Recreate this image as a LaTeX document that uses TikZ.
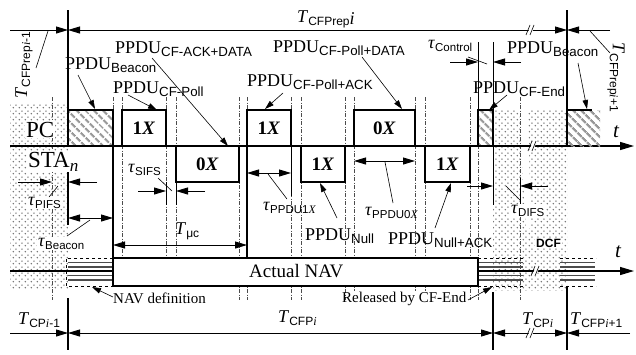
\documentclass[tikz,border=0pt]{standalone}
\usepackage{fontspec}
\setmainfont{Liberation Serif}
\newfontfamily\subf{Liberation Sans}
\usetikzlibrary{arrows.meta,patterns,patterns.meta}
\newcommand\subsz[1]{\fontsize{#1}{#1}\selectfont}
\newcommand\ppdu[1]{PPDU\raisebox{-3.5pt}{\subsz{13.3}\subf #1}}
\newcommand\tauL[1]{\textit{τ}\raisebox{-3pt}{\subsz{11.5}\subf #1}}
\newcommand\Tlab[1]{\textit{T}\raisebox{-3pt}{\subsz{12}\subf #1}}
\newcommand\ivar{\textit{\rmfamily i}}
\tikzdeclarepattern{
  name=grdots,
  type=uncolored,
  bounding box={(0pt,0pt) and (6pt,6pt)},
  tile size={(6pt,6pt)},
  code={
    \pgfpathcircle{\pgfpoint{1.5pt}{1.5pt}}{0.9pt}
    \pgfpathcircle{\pgfpoint{4.5pt}{4.5pt}}{0.9pt}
    \pgfusepath{fill}
  }
}
\begin{document}
\begin{tikzpicture}[x=1pt,y=-1pt,
  every node/.style={inner sep=0pt, font=\subsz{18}},
  box/.style={draw, line width=1.1pt, fill=white, minimum height=36pt, font=\subsz{19}\bfseries},
  hbox/.style={draw, line width=1.1pt, minimum height=36pt, pattern={Lines[angle=-45,distance=6.5pt,line width=2.4pt]}, pattern color=gray!80},
  thk/.style={line width=1.1pt},
  lead/.style={line width=0.6pt},
  ar/.style={-{Triangle[length=12pt,width=7pt]}, line width=0.9pt},
  dar/.style={{Triangle[length=12pt,width=7pt]}-{Triangle[length=12pt,width=7pt]}, line width=0.9pt},
  sar/.style={-{Triangle[length=9pt,width=5.5pt]}, line width=0.6pt},
  guide/.style={gray!60!black, line width=0.6pt, dash pattern=on 4pt off 1.5pt on 1pt off 1.5pt},
  dotfill/.style={pattern=grdots, pattern color=gray!85!black},
  navl/.style={gray!60!black, line width=1.4pt},
  wbg/.style={fill=white, inner sep=1pt},
  brk/.pic={\fill[white] (-3,5) -- (1,-5) -- (5,-5) -- (1,5) -- cycle;
            \draw[line width=0.6pt] (-4,5) -- (0,-5) (0,5) -- (4,-5);}
]
\useasboundingbox (0,0) rectangle (636,354);
\fill[white] (0,0) rectangle (636,354);

% dotted regions
\fill[dotfill] (10,104) rectangle (68,288);
\fill[dotfill] (493,110) rectangle (567,290);
\fill[white] (519,110) -- (528,110) -- (531,228) -- (526,228) -- cycle;

% guides
\foreach \x in {113,122,166,176} \draw[guide] (\x,97) -- (\x,258);
\foreach \x in {52,239,247,291,301,345,470,478,520} \draw[guide] (\x,97) -- (\x,300);
\foreach \x in {354,415,425} \draw[guide] (\x,97) -- (\x,291);

% top span
\draw[ar] (10,30) -- (68,30);
\draw[dar] (68,30) -- (567,30);
\draw[ar] (610,30) -- (567,30);
\pic at (530,30) {brk};
\draw[thk] (68,10) -- (68,110);
\draw[thk] (567,10) -- (567,110);
\draw[line width=0.8pt] (478,42) -- (478,110) (493,42) -- (493,110);

% time axis PC/STA
\draw[line width=1.3pt, -{Triangle[length=14pt,width=8pt]}] (10,146) -- (634,146);
\pic at (532,146) {brk};

% boxes
\node[hbox, minimum width=45pt] (pcb) at (90.5,128) {};
\node[box, minimum width=44pt] (pc1) at (144,128) {1\textit{X}};
\node[box, minimum width=63pt] (st0) at (207.5,164) {0\textit{X}};
\node[box, minimum width=44pt] (pc2) at (269,128) {1\textit{X}};
\node[box, minimum width=44pt] (st1) at (323,164) {1\textit{X}};
\node[box, minimum width=61pt] (pc0) at (384.5,128) {0\textit{X}};
\node[box, minimum width=45pt] (st2) at (447.5,164) {1\textit{X}};
\node[hbox, minimum width=15pt] (pce) at (485.5,128) {};
\fill[pattern={Lines[angle=-45,distance=6.5pt,line width=2.4pt]}, pattern color=gray!80] (567,110) rectangle (600,146);
\draw[thk] (567,146) -- (567,110) -- (592,110);

% solid reference verticals
\draw[thk] (113,146) -- (113,258);
\draw[thk] (247,146) -- (247,258);
\draw[line width=0.8pt] (291,146) -- (291,196);
\draw[line width=0.8pt] (166,182) -- (166,205) (176,182) -- (176,205);
\draw[line width=0.8pt] (493,146) -- (493,205) (520,178) -- (520,205);
\draw[thk] (68,172) -- (68,225);

% NAV line
\draw[line width=1.2pt, -{Triangle[length=14pt,width=8pt]}] (10,271) -- (634,271);
\foreach \y in {262.5,267,275.5,280} {
  \draw[navl] (68,\y) -- (113,\y);
  \draw[navl] (478,\y) -- (523,\y);
  \draw[navl] (560,\y) -- (595,\y);
}
\draw[dashed, line width=0.6pt] (113,258) -- (66,258) -- (66,286) -- (113,286);
\draw[dashed, line width=0.6pt] (478,258) -- (523,258) (478,286) -- (523,286);
\draw[dashed, line width=0.6pt] (560,258) -- (596,258) (560,286) -- (596,286);
\node[draw, thk, fill=white, minimum width=365pt, minimum height=28pt] (nav) at (295.5,272) {};
\pic at (535,271) {brk};

% bottom span
\draw[ar] (10,333) -- (68,333);
\draw[dar] (68,333) -- (493,333);
\draw[dar] (493,333) -- (567,333);
\draw[ar] (630,333) -- (567,333);
\pic at (530,333) {brk};
\draw[thk] (68,298) -- (68,350) (493,292) -- (493,350) (567,287) -- (567,350);

% interval arrows
\draw[ar] (18,182) -- (52,182);
\draw[ar] (97,182) -- (68,182);
\draw[dar] (68,218) -- (113,218);
\draw[dar] (113,245) -- (247,245);
\draw[ar] (138,191) -- (166,191);
\draw[ar] (205,191) -- (176,191);
\draw[dar] (247,173) -- (291,173);
\draw[dar] (354,161) -- (415,161);
\draw[ar] (467,186) -- (493,186);
\draw[ar] (548,186) -- (520,186);
\draw[ar] (450,62) -- (478,62);
\draw[ar] (521,62) -- (493,62);

% labels
\node[anchor=base west] (lTcfp) at (297,22) {\Tlab{CFPrep}\raisebox{-2.5pt}{\textit{i}}};
\node[rotate=90] (lTprev) at (24,65) {\Tlab{CFPrep\ivar-1}};
\node[rotate=-90] (lTnext) at (616,77) {\Tlab{CFPrep\ivar+1}};
\node[anchor=base west] (lB1) at (65,69) {\ppdu{Beacon}};
\node[anchor=base west] (lAD) at (115,53) {\ppdu{CF-ACK+DATA}};
\node[anchor=base west] (lCP) at (113,93) {\ppdu{CF-Poll}};
\node[anchor=base west] (lPD) at (273,52) {\ppdu{CF-Poll+DATA}};
\node[anchor=base west] (lPA) at (247,86) {\ppdu{CF-Poll+ACK}};
\node[anchor=base west] (lCtl) at (428,48) {\tauL{Control}};
\node[anchor=base west] (lB2) at (507,53) {\ppdu{Beacon}};
\node[anchor=base west] (lCE) at (473,93) {\ppdu{CF-End}};
\node[anchor=base west, wbg, font=\subsz{23}] (lPC) at (25,137) {PC};
\node[anchor=base west, wbg, font=\subsz{23}] (lSTA) at (27,167) {STA\raisebox{-4pt}{\subsz{17}\textit{n}}};
\node[anchor=base west, wbg] (lPIFS) at (27,205) {\tauL{PIFS}};
\node[anchor=base west, wbg] (lBcn) at (37,246) {\tauL{Beacon}};
\node[anchor=base west] (lSIFS) at (128,172) {\tauL{SIFS}};
\node[anchor=base west] (lTuc) at (175,234) {\Tlab{μc}};
\node[anchor=base west] (l1X) at (263,210) {\tauL{PPDU1\textit{\rmfamily X}}};
\node[anchor=base west] (lNull) at (305,240) {\ppdu{Null}};
\node[anchor=base west] (l0X) at (365,215) {\tauL{PPDU0\textit{\rmfamily X}}};
\node[anchor=base west] (lNA) at (388,244) {\ppdu{Null+ACK}};
\node[anchor=base west, wbg] (lDIFS) at (510,213) {\tauL{DIFS}};
\node[anchor=base west, wbg, font=\subsz{12}\subf\bfseries] (lDCF) at (535,247) {DCF};
\node[anchor=base west, font=\subsz{21}] (lt1) at (613,137) {\textit{t}};
\node[anchor=base west, font=\subsz{21}] (lt2) at (615,257) {\textit{t}};
\node[anchor=base west, font=\subsz{19}] (lNAV) at (249,277) {Actual NAV};
\node[anchor=base west, font=\subsz{15}] (lND) at (113,303) {NAV definition};
\node[anchor=base west, font=\subsz{15}] (lRel) at (342,302) {Released by CF-End};
\node[anchor=base west] (lCPa) at (18,324) {\Tlab{CP\ivar-1}};
\node[anchor=base west] (lCFPi) at (278,322) {\Tlab{CFP\ivar}};
\node[anchor=base west] (lCPi) at (522,324) {\Tlab{CP\ivar}};
\node[anchor=base west] (lCFPn) at (570,324) {\Tlab{CFP\ivar+1}};

% leaders
\draw[lead] (48,31) -- (36,68);
\draw[lead] (590,31) -- (610,53);
\draw[lead] (58,186) -- (49,197);
\draw[lead] (90,220) -- (67,236);
\draw[lead] (172,191) -- (158,178);
\draw[lead] (268,174) -- (287,199);
\draw[lead] (385,162) -- (393,203);
\draw[lead] (506,186) -- (520,200);
\draw[lead] (468,57) -- (487,64);
% arrow leaders
\draw[sar] (78,75) -- (95,109);
\draw[sar] (128,95) -- (157,110);
\draw[sar] (152,58) -- (228,146);
\draw[sar] (283,93) -- (265,109);
\draw[sar] (362,57) -- (402,109);
\draw[sar] (507,95) -- (489,110);
\draw[sar] (578,63) -- (587,109);
\draw[sar] (337,218) -- (320,183);
\draw[sar] (435,228) -- (451,183);
\draw[sar] (113,297) -- (92,287);
\draw[sar] (468,300) -- (492,287);
\end{tikzpicture}
\end{document}
